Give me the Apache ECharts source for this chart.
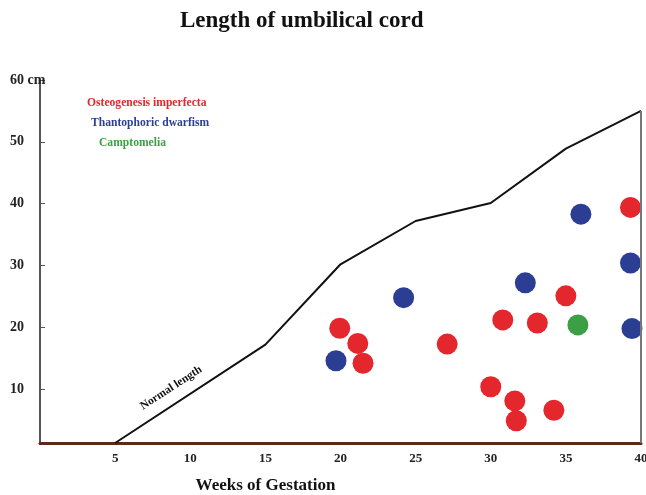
<!DOCTYPE html>
<html>
<head>
<meta charset="utf-8">
<script src="https://cdn.jsdelivr.net/npm/echarts@6/dist/echarts.min.js"></script>
<style>html,body{margin:0;padding:0;background:#fff}#c{width:646px;height:495px}</style>
</head>
<body>
<div id="c"></div>
<script>
const BASE = 1.3;
const xTicks = [5, 10, 15, 20, 25, 30, 35, 40];
const yTicks = [10, 20, 30, 40, 50, 60];
const normalWeeks = [5, 15, 20, 25, 30, 35, 40];
const normalLength = [BASE, 17.2, 30.2, 37.2, 40.1, 48.9, 55];
const osteoWeeks = [39.3, 35.0, 19.95, 30.8, 33.1, 21.15, 27.1, 21.5, 30.0, 31.6, 31.7, 34.2];
const osteoLength = [39.4, 25.1, 19.85, 21.2, 20.7, 17.4, 17.3, 14.2, 10.4, 8.1, 4.9, 6.6];
const thantoWeeks = [36.0, 39.3, 32.3, 24.2, 39.4, 19.7];
const thantoLength = [38.3, 30.4, 27.2, 24.8, 19.8, 14.6];
const camptoWeeks = [35.8];
const camptoLength = [20.4];

const zip = (a, b) => a.map((v, i) => [v, b[i]]);
const FONT = 'Liberation Serif';
const RED = '#e3272c', BLUE = '#2c3d94', GREEN = '#3c9f45';

const chart = echarts.init(document.getElementById('c'));
chart.setOption({
  animation: false,
  backgroundColor: '#fff',
  title: {
    text: 'Length of umbilical cord',
    left: 175, top: 5,
    textStyle: { fontFamily: FONT, fontWeight: 'bold', fontSize: 23, color: '#111' }
  },
  legend: {
    orient: 'vertical', left: 77, top: 92, itemGap: 8, icon: 'none',
    itemWidth: 0, itemHeight: 0,
    textStyle: { fontFamily: FONT, fontWeight: 'bold', fontSize: 11.6 },
    data: [
      { name: 'Osteogenesis imperfecta', textStyle: { color: RED } },
      { name: 'Thantophoric dwarfism', textStyle: { color: BLUE, padding: [0, 0, 0, 4] } },
      { name: 'Camptomelia', textStyle: { color: GREEN, padding: [0, 0, 0, 12] } }
    ]
  },
  grid: { left: 40, right: 5, top: 80, bottom: 52, outerBoundsMode: 'none', containLabel: false },
  xAxis: {
    type: 'value', min: 0, max: 40, interval: 5,
    name: 'Weeks of Gestation', nameLocation: 'middle', nameGap: 34,
    nameTextStyle: { fontFamily: FONT, fontWeight: 'bold', fontSize: 17, color: '#111', padding: [0, 150, 0, 0] },
    axisLine: { show: true, lineStyle: { color: '#5b2a18', width: 3 } },
    axisTick: { show: false },
    splitLine: { show: false },
    axisLabel: {
      margin: 9, fontFamily: FONT, fontWeight: 'bold', fontSize: 13, color: '#222',
      formatter: v => (xTicks.includes(v) ? String(v) : '')
    }
  },
  yAxis: {
    type: 'value', min: BASE, max: 60,
    axisLine: { show: true, lineStyle: { color: '#555', width: 2 } },
    axisTick: { show: true, inside: true, length: 5, customValues: yTicks, lineStyle: { color: '#555', width: 1 } },
    splitLine: { show: false },
    axisLabel: {
      customValues: yTicks, align: 'left', margin: 30,
      fontFamily: FONT, fontWeight: 'bold', fontSize: 14, color: '#222',
      formatter: v => (v === 60 ? '60 cm' : String(v))
    }
  },
  series: [
    {
      name: 'Normal length', type: 'line', data: zip(normalWeeks, normalLength),
      symbol: 'none', lineStyle: { color: '#111', width: 2 }, z: 1,
      markLine: {
        silent: true, symbol: 'none', label: { show: false },
        lineStyle: { color: '#777', width: 2, type: 'solid' },
        data: [[{ coord: [40, 55] }, { coord: [40, BASE] }]]
      },
      markPoint: {
        symbol: 'circle', symbolSize: 2,
        itemStyle: { color: 'rgba(0,0,0,0)' },
        label: {
          show: true, position: 'inside', formatter: 'Normal length', rotate: 33,
          fontFamily: FONT, fontWeight: 'bold', fontSize: 11.5, color: '#111'
        },
        data: [{ coord: [8.73, 10.2], value: 0 }]
      }
    },
    {
      name: 'Osteogenesis imperfecta', type: 'scatter', data: zip(osteoWeeks, osteoLength),
      symbolSize: 21, itemStyle: { color: RED, opacity: 1 }, z: 3
    },
    {
      name: 'Thantophoric dwarfism', type: 'scatter', data: zip(thantoWeeks, thantoLength),
      symbolSize: 21, itemStyle: { color: BLUE, opacity: 1 }, z: 3
    },
    {
      name: 'Camptomelia', type: 'scatter', data: zip(camptoWeeks, camptoLength),
      symbolSize: 21, itemStyle: { color: GREEN, opacity: 1 }, z: 3
    }
  ]
});
</script>
</body>
</html>
